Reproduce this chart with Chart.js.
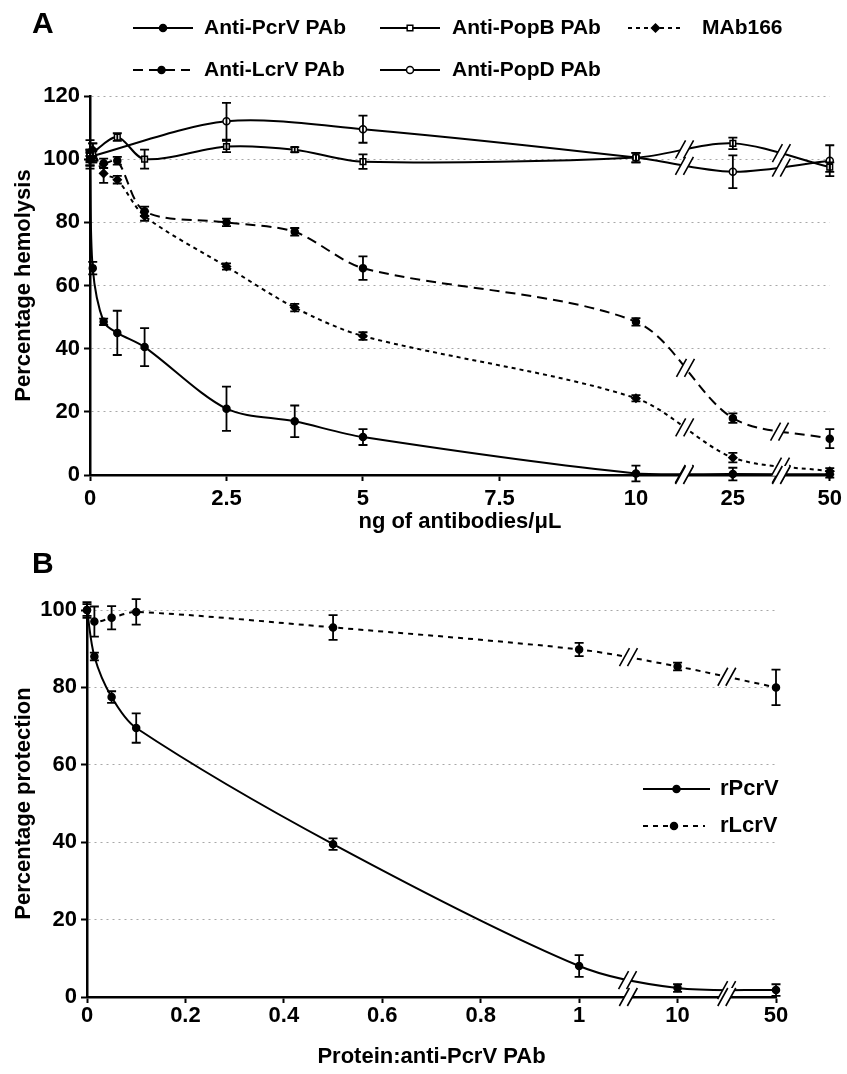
<!DOCTYPE html>
<html>
<head>
<meta charset="utf-8">
<script src="https://cdn.jsdelivr.net/npm/chart.js@4/dist/chart.umd.min.js"></script>
<style>
  body { margin: 0; background: #fff; }
  #wrap { position: relative; width: 847px; height: 1074px; }
  canvas { position: absolute; left: 0; }
  #chartA { top: 0; }
  #chartB { top: 540px; }
</style>
</head>
<body>
<div id="wrap">
  <canvas id="chartA" width="847" height="535"></canvas>
  <canvas id="chartB" width="847" height="534"></canvas>
</div>
<script>
// ---- panel A : hemolysis ----
const doseA = [0, 0.05, 0.25, 0.5, 1, 2.5, 3.75, 5, 10, 25, 50];
const tickLabelsA = ['0', '2.5', '5', '7.5', '10', '25', '50'];
const tickDoseA = [0, 2.5, 5, 7.5, 10, 25, 50];

const pcrvA = [100, 65.5, 48.5, 45, 40.5, 21, 17, 12, 0.5, 0.3, 0.2];
const pcrvAErr = [2, 2, 1, 7, 6, 7, 5, 2.5, 2.5, 2, 1];
const popbA = [101, 102, null, 107, 100, 104, 103, 99.2, 100.5, 105, 97.5];
const popbAErr = [2, 3, null, 1.2, 3, 1.8, 0.8, 2.3, 1.5, 1.8, 1.5];
const popdA = [100, 101, null, null, null, 112, null, 109.5, 100.5, 96, 99.5];
const popdAErr = [3, 2, null, null, null, 5.8, null, 4.3, 1.5, 5.2, 4.9];
const mab166A = [101, 103, 95.5, 93.5, 82, 66, 53, 44, 24.3, 5.5, 1.2];
const mab166AErr = [1.5, 2, 3, 1.2, 1.5, 1, 1.2, 1.2, 1, 1.5, 1];
const lcrvA = [102, 101, 98.7, 99.5, 83.5, 80, 77, 65.5, 48.5, 18, 11.5];
const lcrvAErr = [4, 1.5, 1.5, 1.2, 1.5, 1.2, 1.2, 3.7, 1.2, 1.5, 3];

// ---- panel B : protection ----
const doseB = [0, 0.015, 0.05, 0.1, 0.5, 1, 10, 50];
const tickLabelsB = ['0', '0.2', '0.4', '0.6', '0.8', '1', '10', '50'];
const tickDoseB = [0, 0.2, 0.4, 0.6, 0.8, 1, 10, 50];
const rpcrvB = [100, 88, 77.5, 69.5, 39.5, 8, 2.3, 1.8];
const rpcrvBErr = [1.5, 1, 1.5, 3.8, 1.5, 2.8, 1, 1.5];
const rlcrvB = [100, 97, 98, 99.5, 95.5, 89.8, 85.4, 80];
const rlcrvBErr = [2, 3.9, 3, 3.3, 3.2, 1.7, 1, 4.6];

// broken axes: linear part, then two equal compressed segments
const segA = 1.775;
const posA = d => d <= 10 ? d : d <= 25 ? 10 + (d - 10) / 15 * segA : 10 + segA + (d - 25) / 25 * segA;
const posB = d => d <= 1 ? d : d <= 10 ? 1 + (d - 1) / 9 * 0.2 : 1.2 + (d - 10) / 40 * 0.2;

const pts = (dose, vals, errs, pos) => dose
  .map((d, i) => vals[i] == null ? null : { x: pos(d), y: vals[i], err: errs[i] })
  .filter(p => p);

Chart.defaults.font.family = '"Liberation Sans", Arial, sans-serif';
Chart.defaults.font.weight = 'bold';
Chart.defaults.color = '#000';

function sample(ctx, ds, x1, x2, y) {
  ctx.save();
  ctx.strokeStyle = '#000';
  ctx.lineWidth = ds.borderWidth;
  ctx.setLineDash(ds.borderDash || []);
  ctx.beginPath();
  ctx.moveTo(x1, y);
  ctx.lineTo(x2, y);
  ctx.stroke();
  ctx.setLineDash([]);
  ctx.fillStyle = ds.pointBackgroundColor;
  ctx.lineWidth = 1.5;
  Chart.helpers.drawPoint(ctx, { pointStyle: ds.pointStyle, radius: ds.pointRadius, rotation: 0, borderWidth: 1.5 }, (x1 + x2) / 2, y);
  ctx.restore();
}

function breakMark(ctx, cx, cy) {
  ctx.save();
  ctx.fillStyle = '#fff';
  ctx.beginPath();
  ctx.moveTo(cx - 9, cy + 9);
  ctx.lineTo(cx + 1, cy - 9);
  ctx.lineTo(cx + 9, cy - 9);
  ctx.lineTo(cx - 1, cy + 9);
  ctx.closePath();
  ctx.fill();
  ctx.strokeStyle = '#000';
  ctx.lineWidth = 1.6;
  ctx.beginPath();
  ctx.moveTo(cx - 9, cy + 9);
  ctx.lineTo(cx + 1, cy - 9);
  ctx.moveTo(cx - 1, cy + 9);
  ctx.lineTo(cx + 9, cy - 9);
  ctx.stroke();
  ctx.restore();
}

// error bars, break marks, panel letter and legend
const extras = {
  id: 'extras',
  afterDatasetsDraw(chart, args, opts) {
    const { ctx, scales: { x, y }, chartArea } = chart;
    ctx.save();
    ctx.strokeStyle = '#000';
    ctx.lineWidth = 1.8;
    chart.data.datasets.forEach(ds => {
      ds.data.forEach(p => {
        if (p.err == null) return;
        const px = x.getPixelForValue(p.x);
        const y1 = y.getPixelForValue(p.y + p.err);
        const y2 = y.getPixelForValue(p.y - p.err);
        ctx.beginPath();
        ctx.moveTo(px, y1); ctx.lineTo(px, y2);
        ctx.moveTo(px - 4.5, y1); ctx.lineTo(px + 4.5, y1);
        ctx.moveTo(px - 4.5, y2); ctx.lineTo(px + 4.5, y2);
        ctx.stroke();
      });
    });
    ctx.restore();

    opts.breaks.forEach(b => {
      const bx = x.getPixelForValue(b);
      chart.data.datasets.forEach((ds, i) => {
        const el = chart.getDatasetMeta(i).data;
        for (let j = 0; j < el.length - 1; j++) {
          const a = el[j], c = el[j + 1];
          if (a.x < bx && c.x > bx) {
            const cy = (a.y + 3 * a.cp2y + 3 * c.cp1y + c.y) / 8;
            const cx = (a.x + 3 * a.cp2x + 3 * c.cp1x + c.x) / 8;
            breakMark(ctx, cx, Math.min(cy, chartArea.bottom - 1));
          }
        }
      });
      breakMark(ctx, bx, chartArea.bottom);
    });
  },
  afterDraw(chart, args, opts) {
    const { ctx } = chart;
    ctx.save();
    ctx.fillStyle = '#000';
    ctx.textBaseline = 'middle';
    ctx.font = 'bold 30px "Liberation Sans", Arial, sans-serif';
    ctx.fillText(opts.letter, 32, 25);
    ctx.font = opts.legendFont;
    opts.legend.forEach(it => {
      const ds = chart.data.datasets[it.ds];
      sample(ctx, ds, it.x1, it.x2, it.y);
      ctx.fillText(ds.label, it.tx, it.y);
    });
    ctx.restore();
  }
};

const line = (label, data, style) => Object.assign({
  label, data,
  borderColor: '#000',
  borderWidth: 2,
  pointBorderColor: '#000',
  pointBorderWidth: 1.5,
  pointBackgroundColor: '#000',
  pointRadius: 3.5,
  pointStyle: 'circle',
  tension: 0.3,
  clip: false,
  fill: false
}, style);

const yAxis = (max, width, title, tpad) => ({
  min: 0, max,
  ticks: { stepSize: 20, padding: 4, font: { size: 22 } },
  grid: { color: '#a8a8a8', lineWidth: 1, tickColor: '#000', tickLength: 6, tickWidth: 2 },
  border: { color: '#000', width: 2.5, dash: [2, 4] },
  title: { display: true, text: title, font: { size: 22 }, padding: { top: tpad } },
  afterFit: s => { s.width = width; }
});

const xAxis = (max, ticks, labels, pos, height, title, tickPad, titlePad) => ({
  type: 'linear', min: 0, max,
  afterBuildTicks: s => { s.ticks = ticks.map(d => ({ value: pos(d) })); },
  ticks: { autoSkip: false, maxRotation: 0, padding: tickPad, font: { size: 22 }, callback: (v, i) => labels[i] },
  grid: { drawOnChartArea: false, tickColor: '#000', tickLength: 6, tickWidth: 2 },
  border: { color: '#000', width: 2.5 },
  title: { display: true, text: title, font: { size: 22 }, padding: { bottom: titlePad } },
  afterFit: s => { s.height = height; }
});

new Chart(document.getElementById('chartA'), {
  type: 'line',
  data: {
    datasets: [
      line('Anti-PcrV PAb', pts(doseA, pcrvA, pcrvAErr, posA), {}),
      line('Anti-PopB PAb', pts(doseA, popbA, popbAErr, posA), { pointStyle: 'rect', pointRadius: 4, pointBackgroundColor: '#fff' }),
      line('MAb166', pts(doseA, mab166A, mab166AErr, posA), { borderDash: [4, 4], pointStyle: 'rectRot', pointRadius: 4 }),
      line('Anti-LcrV PAb', pts(doseA, lcrvA, lcrvAErr, posA), { borderDash: [10, 6] }),
      line('Anti-PopD PAb', pts(doseA, popdA, popdAErr, posA), { pointBackgroundColor: '#fff', pointRadius: 3.5 })
    ]
  },
  options: {
    responsive: false,
    animation: false,
    layout: { padding: { top: 96, right: 12, left: 0, bottom: 0 } },
    scales: {
      x: xAxis(posA(50), tickDoseA, tickLabelsA, posA, 60, 'ng of antibodies/\u03bcL', 5, 0),
      y: yAxis(120, 90, 'Percentage hemolysis', 11)
    },
    plugins: {
      legend: { display: false },
      tooltip: { enabled: false },
      extras: {
        letter: 'A',
        breaks: [10 + segA / 2, 10 + segA * 1.5],
        legendFont: 'bold 21px "Liberation Sans", Arial, sans-serif',
        legend: [
          { ds: 0, x1: 133, x2: 193, tx: 204, y: 28 },
          { ds: 1, x1: 380, x2: 440, tx: 452, y: 28 },
          { ds: 2, x1: 628, x2: 683, tx: 702, y: 28 },
          { ds: 3, x1: 133, x2: 190, tx: 204, y: 70 },
          { ds: 4, x1: 380, x2: 440, tx: 452, y: 70 }
        ]
      }
    }
  },
  plugins: [extras]
});

new Chart(document.getElementById('chartB'), {
  type: 'line',
  data: {
    datasets: [
      line('rPcrV', pts(doseB, rpcrvB, rpcrvBErr, posB), {}),
      line('rLcrV', pts(doseB, rlcrvB, rlcrvBErr, posB), { borderDash: [5, 5] })
    ]
  },
  options: {
    responsive: false,
    animation: false,
    layout: { padding: { top: 70, right: 71, left: 0, bottom: 0 } },
    scales: {
      x: xAxis(posB(50), tickDoseB, tickLabelsB, posB, 77, 'Protein:anti-PcrV PAb', 0, 4),
      y: yAxis(100, 87, 'Percentage protection', 11)
    },
    plugins: {
      legend: { display: false },
      tooltip: { enabled: false },
      extras: {
        letter: 'B',
        breaks: [1.1, 1.3],
        legendFont: 'bold 22px "Liberation Sans", Arial, sans-serif',
        legend: [
          { ds: 0, x1: 643, x2: 710, tx: 720, y: 249 },
          { ds: 1, x1: 643, x2: 705, tx: 720, y: 286 }
        ]
      }
    }
  },
  plugins: [extras]
});
</script>
</body>
</html>
